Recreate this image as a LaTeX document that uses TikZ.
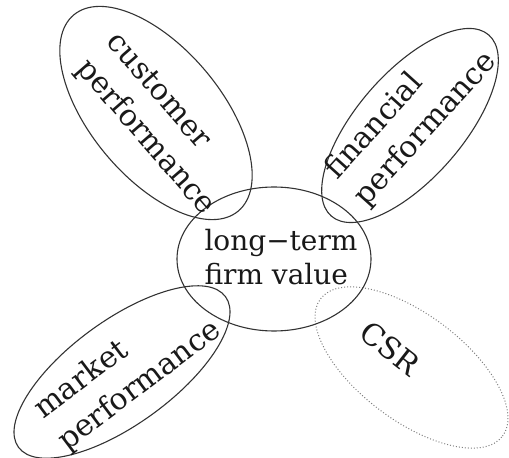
\documentclass[tikz,border=0pt]{standalone}
\usepackage{fontspec}
\setmainfont{DejaVu Serif}
\usetikzlibrary{shapes.geometric}
\begin{document}
\begin{tikzpicture}[x=1pt,y=1pt,
  oval/.style={ellipse, draw=black!80, line width=1.1pt, inner sep=0pt},
  csroval/.style={ellipse, draw=black!50, line width=1pt, dotted, inner sep=0pt},
  lbl/.style={align=left, inner sep=0pt, font=\fontsize{28}{34}\selectfont, text=black!90},
  rlbl/.style={lbl, font=\fontsize{30}{40}\selectfont}]
\useasboundingbox (0,0) rectangle (509,458);
\node[oval, minimum width=256pt, minimum height=130pt, rotate=-50] (cust) at (156,345) {};
\node[oval, minimum width=240pt, minimum height=106pt, rotate=49] (fin) at (410,332.5) {};
\node[oval, minimum width=256pt, minimum height=104pt, rotate=36] (mkt) at (122,86) {};
\node[csroval, minimum width=228pt, minimum height=106pt, rotate=-37] (csr) at (411.5,90.5) {};
\node[oval, minimum width=194pt, minimum height=144pt] (ltv) at (274,199) {};
\node[lbl] (ltvt) at (281,201) {long−term\\firm value};
\node[rlbl, rotate=-49] (custt) at (160,333) {customer\\performance};
\node[rlbl, rotate=48] (fint) at (411,342) {financial\\performance};
\node[rlbl, rotate=37] (mktt) at (128,88) {market\\performance};
\node[rlbl, rotate=-38] (csrt) at (390,109.5) {CSR};
\end{tikzpicture}
\end{document}
